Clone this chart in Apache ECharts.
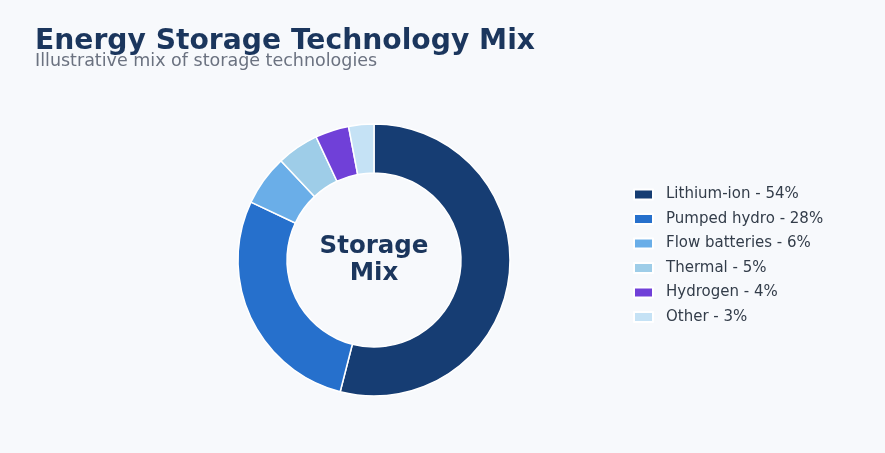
<!DOCTYPE html>
<html>
<head>
<meta charset="utf-8">
<script src="https://cdn.jsdelivr.net/npm/echarts@6/dist/echarts.min.js"></script>
<style>
html,body{margin:0;padding:0;background:#f7f9fc;}
#main{width:885px;height:453px;}
</style>
</head>
<body>
<div id="main"></div>
<script>
const categories = ['Lithium-ion', 'Pumped hydro', 'Flow batteries', 'Thermal', 'Hydrogen', 'Other'];
const values = [54, 28, 6, 5, 4, 3];
const colors = ['#163d73', '#2670cc', '#6aaee8', '#9ecde8', '#7040d8', '#c5e2f5'];

const chart = echarts.init(document.getElementById('main'));
const data = categories.map((c, i) => ({ name: c, value: values[i], itemStyle: { color: colors[i] } }));
chart.setOption({
  backgroundColor: '#f7f9fc',
  textStyle: { fontFamily: 'DejaVu Sans' },
  title: [{
    text: 'Energy Storage Technology Mix',
    left: 35, top: 28, padding: 0,
    textStyle: { fontSize: 28.2, fontWeight: 'bold', color: '#1b365d', fontFamily: 'DejaVu Sans' }
  }, {
    text: 'Illustrative mix of storage technologies',
    left: 35, top: 52.5, padding: 0,
    textStyle: { fontSize: 17.5, fontWeight: 'normal', color: '#6b7280', fontFamily: 'DejaVu Sans' }
  }],
  graphic: [{
    type: 'text',
    x: 374, y: 260,
    style: {
      text: 'Storage\nMix',
      x: 0, y: 0,
      align: 'center', verticalAlign: 'middle',
      font: 'bold 24.5px "DejaVu Sans"',
      lineHeight: 27,
      fill: '#1b365d'
    }
  }],
  legend: {
    orient: 'vertical',
    left: 633, top: 187, padding: 0,
    itemWidth: 19, itemHeight: 10, itemGap: 9.5,
    icon: 'rect',
    formatter: function (name) {
      const i = categories.indexOf(name);
      return name + ' - ' + values[i] + '%';
    },
    textStyle: { fontSize: 15, color: '#333d4a', fontFamily: 'DejaVu Sans', padding: [0, 0, 0, 8] }
  },
  series: [{
    type: 'pie',
    center: [374, 260],
    radius: [87, 136],
    startAngle: 90,
    clockwise: true,
    label: { show: false },
    labelLine: { show: false },
    itemStyle: { borderColor: '#ffffff', borderWidth: 1.5 },
    emphasis: { disabled: true },
    data: data
  }]
});
</script>
</body>
</html>
